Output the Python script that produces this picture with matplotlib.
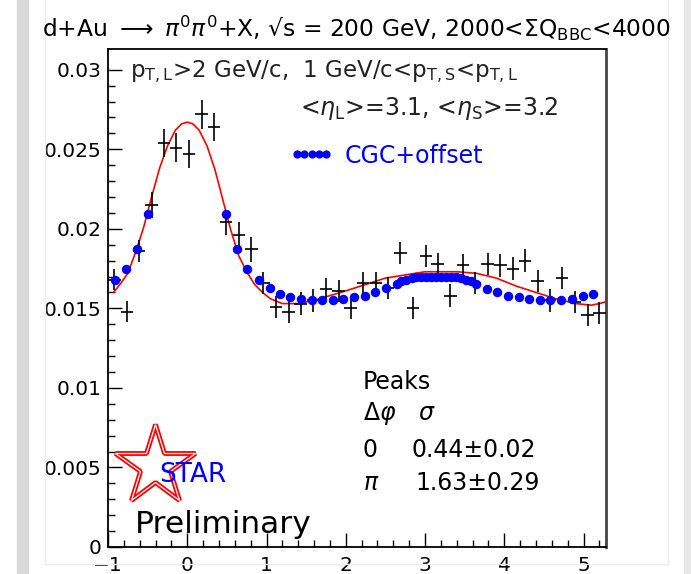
import matplotlib

matplotlib.use("Agg")

import matplotlib.pyplot as plt
import numpy as np
from matplotlib.lines import Line2D
from matplotlib.patches import Rectangle

# --- data read off the STAR d+Au di-pi0 correlation plot ---
# measured points (black crosses), 40 bins in delta-phi
dphi = [-0.92, -0.76, -0.61, -0.45, -0.29, -0.14, 0.02, 0.18, 0.34, 0.49,
        0.65, 0.81, 0.96, 1.12, 1.28, 1.43, 1.59, 1.75, 1.91, 2.06,
        2.22, 2.38, 2.53, 2.69, 2.85, 3.01, 3.16, 3.32, 3.48, 3.63,
        3.79, 3.95, 4.11, 4.26, 4.42, 4.58, 4.73, 4.89, 5.05, 5.20]
counts = [0.0168, 0.0148, 0.0186, 0.0215, 0.0254, 0.0251, 0.0247, 0.0272, 0.0264, 0.0204,
          0.0196, 0.0187, 0.0166, 0.0151, 0.0148, 0.0153, 0.0155, 0.0162, 0.0161, 0.0150,
          0.0166, 0.0166, 0.0163, 0.0185, 0.0150, 0.0183, 0.0178, 0.0158, 0.0177, 0.0166,
          0.0178, 0.0177, 0.0175, 0.0180, 0.0167, 0.0155, 0.0169, 0.0154, 0.0146, 0.0147]
counts_err = [0.00065, 0.00065, 0.0007, 0.0008, 0.0009, 0.0009, 0.0009, 0.0009, 0.0009, 0.0008,
              0.0008, 0.0008, 0.0007, 0.0007, 0.0007, 0.0007, 0.0007, 0.0007, 0.0007, 0.0007,
              0.0007, 0.0007, 0.0007, 0.0007, 0.0007, 0.0007, 0.0007, 0.0007, 0.0007, 0.0007,
              0.0007, 0.0007, 0.0007, 0.0007, 0.0007, 0.0007, 0.0007, 0.0007, 0.0007, 0.0007]
bin_half = 0.0785

# CGC+offset calculation (blue dots)
cgc_x = [-0.91, -0.77, -0.64, -0.50, 0.49, 0.63, 0.76, 0.90, 1.04, 1.17,
         1.30, 1.44, 1.57, 1.70, 1.84, 1.97, 2.11, 2.24, 2.37, 2.51,
         2.64, 2.70, 2.76, 2.83, 2.89, 2.95, 3.01, 3.08, 3.14, 3.20,
         3.27, 3.33, 3.39, 3.45, 3.52, 3.58, 3.64, 3.78, 3.91, 4.05,
         4.18, 4.31, 4.45, 4.58, 4.72, 4.85, 4.99, 5.12]
cgc_y = [0.0168, 0.0175, 0.0187, 0.0209, 0.0209, 0.0187, 0.0175, 0.0168, 0.0163, 0.0159,
         0.0157, 0.0156, 0.0155, 0.0155, 0.0155, 0.0156, 0.0157, 0.0158, 0.0160, 0.0163,
         0.01655, 0.0167, 0.0168, 0.01688, 0.01694, 0.01698, 0.0170, 0.0170, 0.0170, 0.0170,
         0.0170, 0.01698, 0.01694, 0.01688, 0.0168, 0.0167, 0.01655, 0.0162, 0.0160, 0.0158,
         0.0157, 0.0156, 0.0155, 0.0155, 0.01555, 0.01557, 0.01575, 0.0159]

# double-gaussian fit (red curve)
fit_x = [-0.93, -0.85, -0.75, -0.65, -0.55, -0.45, -0.35, -0.25, -0.15, -0.07,
         0.0, 0.07, 0.15, 0.25, 0.35, 0.45, 0.55, 0.65, 0.75, 0.85,
         0.95, 1.05, 1.20, 1.40, 1.60, 1.80, 2.00, 2.25, 2.50, 2.75,
         3.00, 3.20, 3.40, 3.65, 3.90, 4.15, 4.40, 4.65, 4.90, 5.10,
         5.20, 5.27]
fit_y = [0.0160, 0.0165, 0.0172, 0.01855, 0.0201, 0.0220, 0.0238, 0.0252, 0.0262, 0.0266,
         0.0267, 0.0266, 0.0262, 0.0252, 0.0237, 0.0218, 0.0199, 0.0183, 0.0173, 0.0165,
         0.0160, 0.0156, 0.0153, 0.0153, 0.0155, 0.0158, 0.0161, 0.0165, 0.0169, 0.0171,
         0.0173, 0.0173, 0.0173, 0.0172, 0.0169, 0.0164, 0.0160, 0.0156, 0.0153, 0.0152,
         0.0153, 0.0154]

x_ticks = [-1, 0, 1, 2, 3, 4, 5]
y_ticks = [0, 0.005, 0.01, 0.015, 0.02, 0.025, 0.03]
y_labels = ["0", "0.005", "0.01", "0.015", "0.02", "0.025", "0.03"]

fig = plt.figure(figsize=(6.91, 5.74), dpi=100)

# slide-like frame / shadow around the plot
fig.patches.append(Rectangle((17 / 691, 0), 11 / 691, 1, transform=fig.transFigure,
                             color="#d9d9d9", zorder=0))
fig.patches.append(Rectangle((684 / 691, 0), 7 / 691, 1, transform=fig.transFigure,
                             color="#e8e8e8", zorder=0))
for xs, ys in [([45, 45], [0, 564]), ([668, 668], [0, 564]), ([45, 668], [564, 564])]:
    fig.lines.append(Line2D([x / 691 for x in xs], [1 - y / 574 for y in ys],
                            transform=fig.transFigure, color="#ececec", lw=1))

ax = fig.add_axes([108 / 691, 27 / 574, 498 / 691, 498 / 574])
ax.set_xlim(-1, 2 * np.pi - 1)
ax.set_ylim(0, 0.0313)

ax.plot(fit_x, fit_y, color="red", lw=1.2, zorder=2)
ax.errorbar(dphi, counts, xerr=bin_half, yerr=counts_err, fmt="none",
            ecolor="black", elinewidth=1.2, capsize=0, zorder=3)
cgc, = ax.plot(cgc_x, cgc_y, "o", color="blue", ms=5.8, mec="blue", zorder=4,
               label="CGC+offset")

ax.legend(handles=[cgc], numpoints=5, frameon=False, loc="center left",
          bbox_to_anchor=(0.366, 0.786), handlelength=1.8, handletextpad=0.5,
          borderpad=0, borderaxespad=0, fontsize=17, labelcolor="blue", markerscale=0.85)

# ticks
ax.set_xticks(x_ticks)
ax.set_yticks(y_ticks, y_labels)
ax.set_xticks(np.arange(-1, 5.3, 0.2), minor=True)
ax.set_yticks(np.arange(0, 0.031, 0.001), minor=True)
ax.tick_params(which="both", direction="in", top=False, right=False, width=1,
               labelsize=14.5, color="black")
ax.tick_params(which="major", length=10)
ax.tick_params(which="minor", length=5)
ax.tick_params(axis="y", pad=4.5)
ax.tick_params(axis="x", pad=6.5)
for side in ("left", "bottom", "top"):
    ax.spines[side].set_linewidth(1.3)
ax.spines["right"].set_linewidth(2)
ax.spines["right"].set_color("#444444")

# annotations
fig.text(42 / 691, 1 - 36.7 / 574,
         r"d+Au $\longrightarrow$ $\pi^{\rm 0}\pi^{\rm 0}$+X, √s = 200 GeV, "
         r"2000<$\Sigma$Q$_{\rm BBC}$<4000",
         fontsize=16.8, va="baseline", ha="left")
ax.text(0.044, 0.944, r"p$_{\rm T,L}$>2 GeV/c,  1 GeV/c<p$_{\rm T,S}$<p$_{\rm T,L}$",
        transform=ax.transAxes, fontsize=16.5, va="baseline", color="#222222")
ax.text(0.386, 0.8675, r"<$\eta_{\rm L}$>=3.1, <$\eta_{\rm S}$>=3.2",
        transform=ax.transAxes, fontsize=17, va="baseline", color="#222222")

fs = 17
ax.text(0.512, 0.3167, "Peaks", transform=ax.transAxes, fontsize=fs, va="baseline")
ax.text(0.512, 0.255, r"$\Delta\varphi$", transform=ax.transAxes, fontsize=fs, va="baseline")
ax.text(0.6225, 0.255, r"$\sigma$", transform=ax.transAxes, fontsize=fs, va="baseline")
ax.text(0.512, 0.1813, "0", transform=ax.transAxes, fontsize=fs, va="baseline")
ax.text(0.610, 0.1813, "0.44±0.02", transform=ax.transAxes, fontsize=fs, va="baseline")
ax.text(0.512, 0.1145, r"$\pi$", transform=ax.transAxes, fontsize=fs, va="baseline")
ax.text(0.6165, 0.1145, "1.63±0.29", transform=ax.transAxes, fontsize=fs, va="baseline")

# STAR logo
ax.plot([0.0944], [0.1627], marker="*", ms=60, mfc="none", mec="red", mew=3.5,
        transform=ax.transAxes, clip_on=False, zorder=5)
ax.plot([0.0944], [0.1627], marker="*", ms=60, mfc="none", mec="white", mew=0.9,
        transform=ax.transAxes, clip_on=False, zorder=5)
ax.text(0.102, 0.131, "STAR", transform=ax.transAxes, fontsize=19, color="blue",
        va="baseline", zorder=6)
ax.text(0.054, 0.028, "Preliminary", transform=ax.transAxes, fontsize=22.5, va="baseline")

fig.savefig("out.png", dpi=100)
plt.close(fig)
